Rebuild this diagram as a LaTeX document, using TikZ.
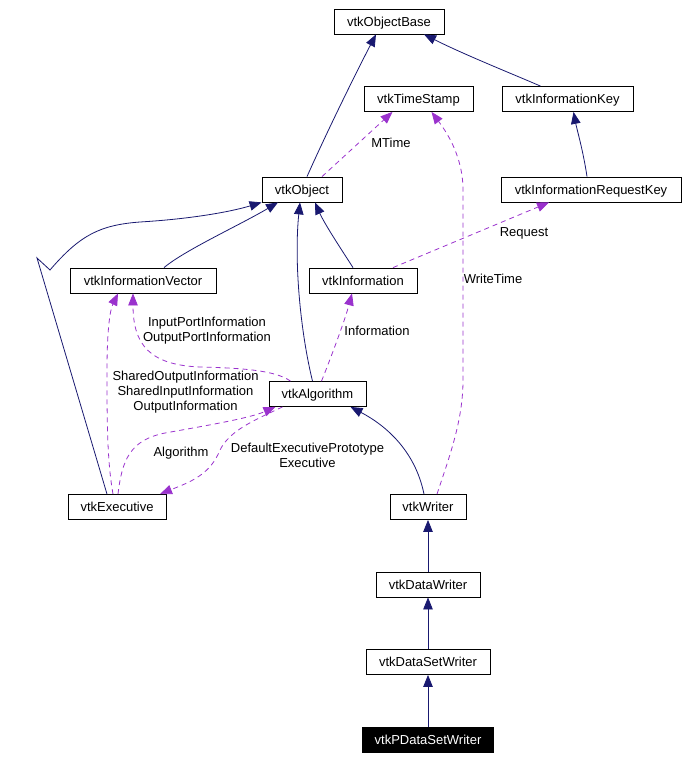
\documentclass[tikz,border=0pt]{standalone}
\usepackage{fontspec}
\setmainfont{Liberation Sans}
\usetikzlibrary{arrows.meta}
\definecolor{inherit}{RGB}{25,25,112}
\definecolor{usage}{RGB}{154,50,205}

\begin{document}
\begin{tikzpicture}[x=1pt,y=-1pt,
  every node/.style={font=\fontsize{13}{15}\selectfont},
  cls/.style={draw=black,line width=0.8pt,minimum height=25pt,inner sep=0pt,text height=9.3pt,text depth=0pt,fill=white},
  isa/.style={draw=inherit,line width=0.8pt,-{Triangle[length=12pt,width=9.5pt]}},
  uses/.style={draw=usage,line width=0.8pt,dash pattern=on 5pt off 4pt,-{Triangle[length=12pt,width=9.5pt]}},
  lbl/.style={inner sep=0pt,align=center}]
\useasboundingbox (0,0) rectangle (687,759);
\node[cls,minimum width=110pt] (base) at (389,21.5) {vtkObjectBase};
\node[cls,minimum width=109pt] (stamp) at (418.5,99) {vtkTimeStamp};
\node[cls,minimum width=131pt] (key) at (567.5,99) {vtkInformationKey};
\node[cls,minimum width=80pt] (obj) at (302,189.5) {vtkObject};
\node[cls,minimum width=180pt] (reqkey) at (591,189.5) {vtkInformationRequestKey};
\node[cls,minimum width=146pt] (infovec) at (143,280.5) {vtkInformationVector};
\node[cls,minimum width=108pt] (info) at (363,280.5) {vtkInformation};
\node[cls,minimum width=97pt] (algo) at (317.5,394) {vtkAlgorithm};
\node[cls,minimum width=98pt] (exec) at (117,507) {vtkExecutive};
\node[cls,minimum width=76pt] (writer) at (428,507) {vtkWriter};
\node[cls,minimum width=104pt] (dwriter) at (428,584.5) {vtkDataWriter};
\node[cls,minimum width=124pt] (dswriter) at (428,662) {vtkDataSetWriter};
\node[cls,minimum width=131pt,fill=black,text=white] (pdswriter) at (428,739.5) {vtkPDataSetWriter};
\coordinate (kink) at (37,258);
\coordinate (hook) at (50,270);
\draw[isa] ([xshift=5pt]obj.north) .. controls (330,125) and (360,65) .. ([xshift=-13pt]base.south);
\draw[isa] ([xshift=-27pt]key.north) .. controls (515,75) and (465,55) .. ([xshift=35pt]base.south);
\draw[isa] ([xshift=-4pt]reqkey.north) .. controls (583,150) and (577,130) .. ([xshift=6pt]key.south);
\draw[isa] ([xshift=21pt]infovec.north) .. controls (185,250) and (240,225) .. ([xshift=-24pt]obj.south);
\draw[isa] ([xshift=-10pt]exec.north) -- (kink) -- (hook) .. controls (80,235) and (100,225) .. (140,222) .. controls (190,219) and (230,212) .. (obj.south west);
\draw[isa] ([xshift=-10pt]info.north) .. controls (345,255) and (325,225) .. ([xshift=13pt]obj.south);
\draw[isa] ([xshift=-5pt]algo.north) .. controls (300,330) and (294,260) .. ([xshift=-2pt]obj.south);
\draw[isa] ([xshift=-4pt]writer.north) .. controls (415,450) and (385,425) .. ([xshift=33pt]algo.south);
\draw[isa] (dwriter.north) -- (writer.south);
\draw[isa] (dswriter.north) -- (dwriter.south);
\draw[isa] (pdswriter.north) -- (dswriter.south);
\draw[uses] ([xshift=20pt]obj.north) -- ([xshift=-26pt]stamp.south);
\draw[uses] ([xshift=9pt]writer.north) .. controls (450,455) and (463,420) .. (463,380) -- (463,190) .. controls (463,155) and (445,130) .. ([xshift=13pt]stamp.south);
\draw[uses] ([xshift=30pt]info.north) -- ([xshift=-42pt]reqkey.south);
\draw[uses] ([xshift=-27pt]algo.north) .. controls (275,370) and (240,368) .. (200,367) .. controls (150,365) and (133,345) .. ([xshift=-10pt]infovec.south);
\draw[uses] ([xshift=-4pt]exec.north) .. controls (107,460) and (107,420) .. (107,370) .. controls (107,330) and (110,310) .. ([xshift=-25pt]infovec.south);
\draw[uses] ([xshift=4pt]algo.north) .. controls (330,360) and (345,320) .. ([xshift=-11pt]info.south);
\draw[uses] ([xshift=1pt]exec.north) .. controls (122,460) and (130,440) .. (165,433) .. controls (210,425) and (250,418) .. ([xshift=-42pt]algo.south);
\draw[uses] ([xshift=-35pt]algo.south) .. controls (255,420) and (230,430) .. (220,450) .. controls (210,475) and (190,482) .. ([xshift=43pt]exec.north);
\node[lbl] (mtime) at (391,143) {MTime};
\node[lbl] (wtime) at (493,279) {WriteTime};
\node[lbl] (req) at (524,233) {Request};
\node[lbl] (portinfo) at (207,331) {InputPortInformation\\OutputPortInformation};
\node[lbl] (sharedinfo) at (185.5,392) {SharedOutputInformation\\SharedInputInformation\\OutputInformation};
\node[lbl] (infolbl) at (377,331) {Information};
\node[lbl] (algolbl) at (181,453) {Algorithm};
\node[lbl] (execlbl) at (307.5,455) {DefaultExecutivePrototype\\Executive};
\end{tikzpicture}
\end{document}
